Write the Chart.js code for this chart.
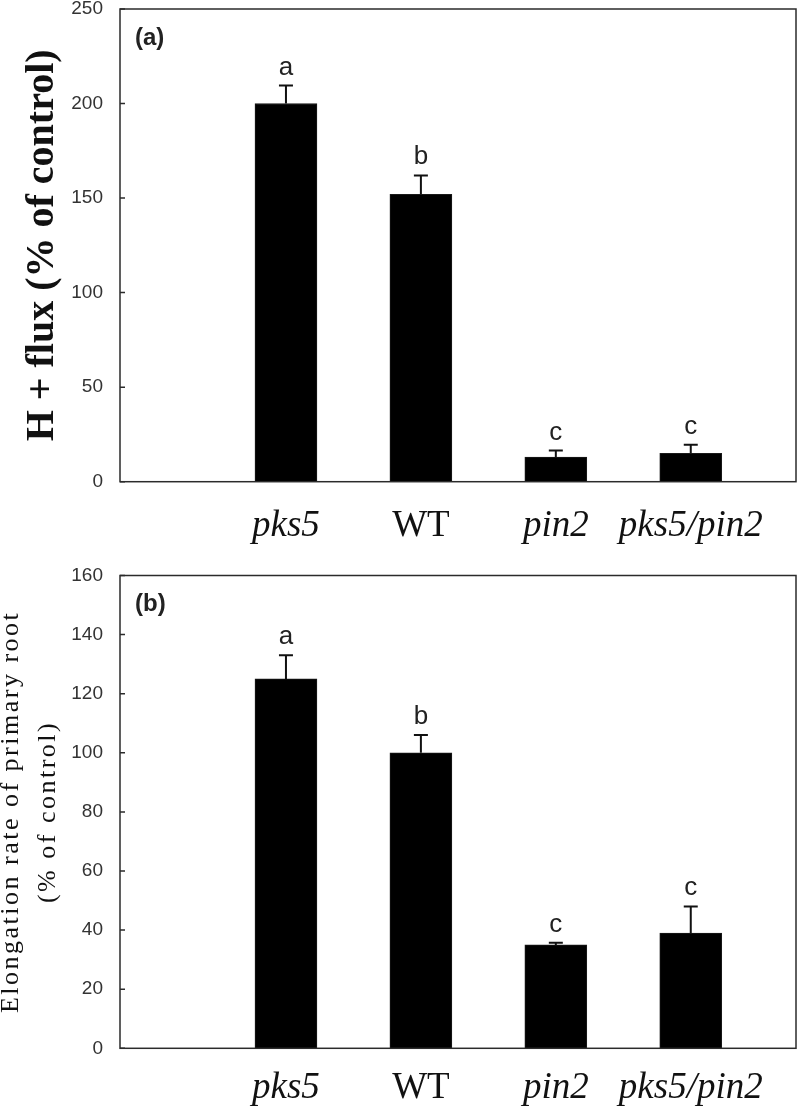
<!DOCTYPE html>
<html>
<head>
<meta charset="utf-8">
<script src="https://cdn.jsdelivr.net/npm/chart.js@4.4.1/dist/chart.umd.min.js"></script>
<style>
  html, body { margin: 0; padding: 0; background: #fff; overflow: hidden; }
  #wrap { position: relative; width: 798px; height: 1107px; }
  canvas { position: absolute; left: 0; }
</style>
</head>
<body>
<div id="wrap">
  <canvas id="fluxChart" width="798" height="560" style="top:0"></canvas>
  <canvas id="elongChart" width="798" height="547" style="top:560px"></canvas>
</div>
<script>
const genotypes = ['pks5', 'WT', 'pin2', 'pks5/pin2'];
const positions = [1, 2, 3, 4];

// panel (a): H+ flux, % of control
const fluxMean = [200, 152, 13, 15];
const fluxErr = [9.5, 10, 3.5, 4.5];
const fluxLetters = ['a', 'b', 'c', 'c'];
const fluxTicks = [0, 50, 100, 150, 200, 250];

// panel (b): elongation rate of primary root, % of control
const elongMean = [125, 100, 35, 39];
const elongErr = [8, 6, 0.7, 9];
const elongLetters = ['a', 'b', 'c', 'c'];
const elongTicks = [0, 20, 40, 60, 80, 100, 120, 140, 160];

// error bars, letters, frame, inward ticks, panel tag and y title
const panelDecor = {
  id: 'panelDecor',
  afterDatasetsDraw(chart, args, opts) {
    const ctx = chart.ctx;
    const x = chart.scales.x;
    const y = chart.scales.y;
    const meta = chart.getDatasetMeta(0);
    const left = x.left;
    const right = Math.max(x.right, chart.width - 2);
    const top = y.getPixelForValue(y.max);
    const bottom = y.getPixelForValue(0);
    ctx.save();

    ctx.strokeStyle = '#111';
    ctx.lineWidth = 2;
    ctx.fillStyle = '#222';
    ctx.font = '26px "Liberation Sans", Arial, sans-serif';
    ctx.textAlign = 'center';
    ctx.textBaseline = 'alphabetic';
    meta.data.forEach((bar, i) => {
      const cap = y.getPixelForValue(opts.mean[i] + opts.err[i]);
      ctx.beginPath();
      ctx.moveTo(bar.x, bar.y);
      ctx.lineTo(bar.x, cap);
      ctx.moveTo(bar.x - 7, cap);
      ctx.lineTo(bar.x + 7, cap);
      ctx.stroke();
      ctx.fillText(opts.letters[i], bar.x, cap - 11);
    });

    // frame
    ctx.strokeStyle = '#2b2b2b';
    ctx.lineWidth = 1.5;
    ctx.strokeRect(left, top, right - left, bottom - top);

    // ticks point into the plot
    ctx.beginPath();
    y.ticks.forEach(t => {
      const py = y.getPixelForValue(t.value);
      ctx.moveTo(left, py);
      ctx.lineTo(left + 5, py);
    });
    ctx.stroke();

    // panel tag
    ctx.fillStyle = '#222';
    ctx.font = 'bold 24px "Liberation Sans", Arial, sans-serif';
    ctx.textAlign = 'left';
    ctx.textBaseline = 'middle';
    ctx.fillText(opts.tag, left + 15, top + 29);

    // y axis title, rotated
    const midY = (top + bottom) / 2;
    ctx.font = opts.titleFont;
    ctx.fillStyle = '#111';
    ctx.textAlign = 'center';
    ctx.textBaseline = 'alphabetic';
    if ('letterSpacing' in ctx) ctx.letterSpacing = opts.titleSpacing;
    opts.title.forEach((line, i) => {
      ctx.save();
      ctx.translate(opts.titleX[i], midY);
      ctx.rotate(-Math.PI / 2);
      ctx.fillText(line, 0, 0);
      ctx.restore();
    });
    if ('letterSpacing' in ctx) ctx.letterSpacing = '0px';
    ctx.restore();
  }
};

function makePanel(canvasId, p) {
  const canvas = document.getElementById(canvasId);
  const H = canvas.height;
  return new Chart(canvas, {
    type: 'bar',
    data: {
      datasets: [{
        data: positions.map((x, i) => ({ x: x, y: p.mean[i] })),
        backgroundColor: '#000',
        borderColor: '#1a1a1a',
        borderWidth: 1,
        barThickness: 62,
        clip: false
      }]
    },
    options: {
      responsive: false,
      animation: false,
      events: [],
      layout: { padding: { top: p.top, right: 2, left: 0, bottom: 0 } },
      plugins: {
        legend: { display: false },
        tooltip: { enabled: false },
        panelDecor: {
          mean: p.mean, err: p.err, letters: p.letters, tag: p.tag,
          title: p.title, titleX: p.titleX, titleFont: p.titleFont, titleSpacing: p.titleSpacing
        }
      },
      scales: {
        x: {
          type: 'linear',
          offset: false,
          min: -0.23,
          max: 4.78,
          grid: { display: false },
          border: { display: false },
          afterBuildTicks: a => { a.ticks = positions.map(v => ({ value: v })); },
          afterFit: a => { a.height = H - p.bottom; a.paddingLeft = 0; a.paddingRight = 0; },
          ticks: {
            autoSkip: false,
            maxRotation: 0,
            padding: p.labelPad,
            color: '#111',
            callback: v => genotypes[positions.indexOf(v)],
            font: c => ({
              family: '"Liberation Serif", "Times New Roman", serif',
              size: 37,
              style: genotypes[c.index] === 'WT' ? 'normal' : 'italic'
            })
          }
        },
        y: {
          min: 0,
          max: p.ticks[p.ticks.length - 1],
          grid: { display: false },
          border: { display: false },
          afterBuildTicks: a => { a.ticks = p.ticks.map(v => ({ value: v })); },
          afterFit: a => { a.width = 120; a.paddingTop = 0; a.paddingBottom = 0; },
          ticks: {
            padding: 9,
            color: '#333',
            font: { family: '"Liberation Sans", Arial, sans-serif', size: 19 }
          }
        }
      }
    },
    plugins: [panelDecor]
  });
}

makePanel('fluxChart', {
  mean: fluxMean, err: fluxErr, letters: fluxLetters, ticks: fluxTicks,
  top: 9, bottom: 481.7, labelPad: 14, tag: '(a)',
  title: ['H + flux (% of control)'], titleX: [53],
  titleFont: 'bold 40px "Liberation Serif", "Times New Roman", serif', titleSpacing: '0px'
});

makePanel('elongChart', {
  mean: elongMean, err: elongErr, letters: elongLetters, ticks: elongTicks,
  top: 15.5, bottom: 488.3, labelPad: 10, tag: '(b)',
  title: ['Elongation rate of primary root', '(% of control)'], titleX: [18, 54.5],
  titleFont: '26px "Liberation Serif", "Times New Roman", serif', titleSpacing: '2.5px'
});
</script>
</body>
</html>
